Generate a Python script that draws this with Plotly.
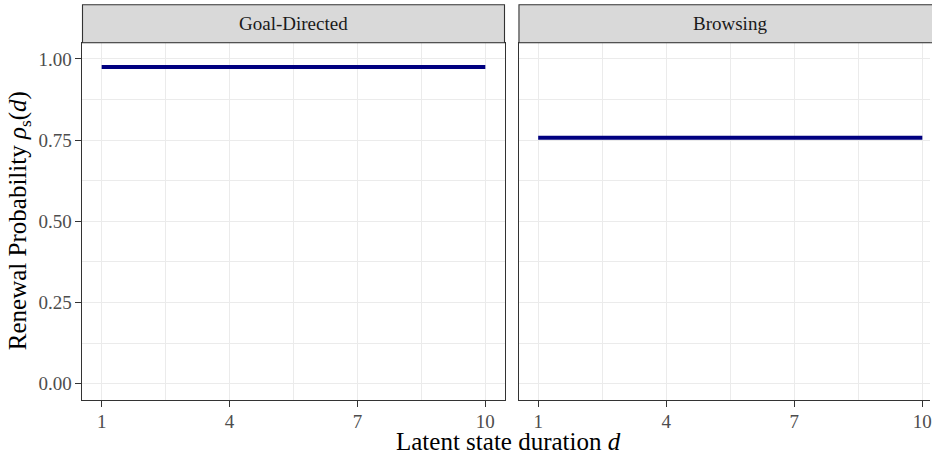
import plotly.graph_objects as go

# ---- data ----
panels = ["Goal-Directed", "Browsing"]
duration = [1, 2, 3, 4, 5, 6, 7, 8, 9, 10]
goal_directed = [0.975, 0.975, 0.975, 0.975, 0.975, 0.975, 0.975, 0.975, 0.975, 0.975]
browsing = [0.757, 0.757, 0.757, 0.757, 0.757, 0.757, 0.757, 0.757, 0.757, 0.757]
x_ticks = [1, 4, 7, 10]
y_ticks = [0.00, 0.25, 0.50, 0.75, 1.00]

W, H = 932, 454
L, R, T, B = 82, 0, 5, 54
PW, PH = W - L - R, H - T - B


def xp(px):
    return (px - L) / PW


def yp(py):
    return (H - B - py) / PH


FONT = "Liberation Serif"
GRID = "#EBEBEB"
DARK = "#333333"
TICKC = "#4D4D4D"

fig = go.Figure()
fig.add_trace(go.Scatter(x=duration, y=goal_directed, mode="lines",
                         line=dict(color="#000080", width=4), xaxis="x", yaxis="y",
                         showlegend=False, hoverinfo="skip"))
fig.add_trace(go.Scatter(x=duration, y=browsing, mode="lines",
                         line=dict(color="#000080", width=4), xaxis="x2", yaxis="y2",
                         showlegend=False, hoverinfo="skip"))

dom_y = [0, yp(42.7)]
common_x = dict(tickmode="array", tickvals=x_ticks, ticktext=[str(v) for v in x_ticks],
                showgrid=True, gridcolor=GRID, gridwidth=1.1,
                minor=dict(tick0=1, dtick=1.5, showgrid=True, gridcolor=GRID, gridwidth=0.55),
                showline=True, linecolor=DARK, linewidth=1.1, mirror=True,
                ticks="outside", ticklen=6, tickwidth=1.1, tickcolor=DARK,
                tickfont=dict(family=FONT, size=19, color=TICKC),
                ticklabeloverflow="allow", ticklabelstandoff=-2,
                zeroline=False, fixedrange=True)
common_y = dict(range=[-0.05, 1.05], tickmode="array", tickvals=y_ticks,
                showgrid=True, gridcolor=GRID, gridwidth=1.1,
                minor=dict(tick0=0, dtick=0.125, showgrid=True, gridcolor=GRID, gridwidth=0.55),
                showline=True, linecolor=DARK, linewidth=1.1,
                zeroline=False, fixedrange=True, domain=dom_y)

fig.update_layout(
    width=W, height=H,
    margin=dict(l=L, r=R, t=T, b=B),
    paper_bgcolor="white", plot_bgcolor="white",
    font=dict(family=FONT, color="black"),
    xaxis=dict(domain=[xp(82.5), xp(505.5)], range=[0.55, 10.45], anchor="y", **common_x),
    xaxis2=dict(domain=[xp(520), 1.0], range=[0.55, 10.18], anchor="y2", **common_x),
    yaxis=dict(anchor="x", mirror=True, ticks="outside", ticklen=6, tickwidth=1.1,
               tickcolor=DARK, tickformat=".2f",
               tickfont=dict(family=FONT, size=19, color=TICKC), **common_y),
    yaxis2=dict(anchor="x2", mirror=False, ticks="", showticklabels=False, **common_y),
)

# strips
strip_y0, strip_y1 = yp(42.7), yp(4.7)
strips = [(xp(82.5), xp(505.5)), (xp(520), xp(943))]
for (x0, x1), name in zip(strips, panels):
    fig.add_shape(type="rect", xref="paper", yref="paper", x0=x0, x1=x1,
                  y0=strip_y0, y1=strip_y1, fillcolor="#D9D9D9",
                  line=dict(color=DARK, width=1.1), layer="above")
    fig.add_annotation(xref="paper", yref="paper", x=(x0 + x1) / 2, y=(strip_y0 + strip_y1) / 2,
                       text=name, showarrow=False, xanchor="center", yanchor="middle",
                       font=dict(family=FONT, size=19, color="#1A1A1A"))

# axis titles
fig.add_annotation(xref="paper", yref="paper", x=xp(510), y=yp(441), text="Latent state duration <i>d</i>",
                   showarrow=False, xanchor="center", yanchor="middle",
                   font=dict(family=FONT, size=25, color="black"))
fig.add_annotation(xref="paper", yref="paper", x=xp(19), y=yp(221),
                   text="Renewal Probability <i>ρ</i><sub>s</sub>(<i>d</i>)",
                   textangle=-90, showarrow=False, xanchor="center", yanchor="middle",
                   font=dict(family=FONT, size=25, color="black"))

fig.write_html("out.html", config={"displayModeBar": False},
               post_script="document.body.style.margin='0';document.body.style.overflow='hidden';")
